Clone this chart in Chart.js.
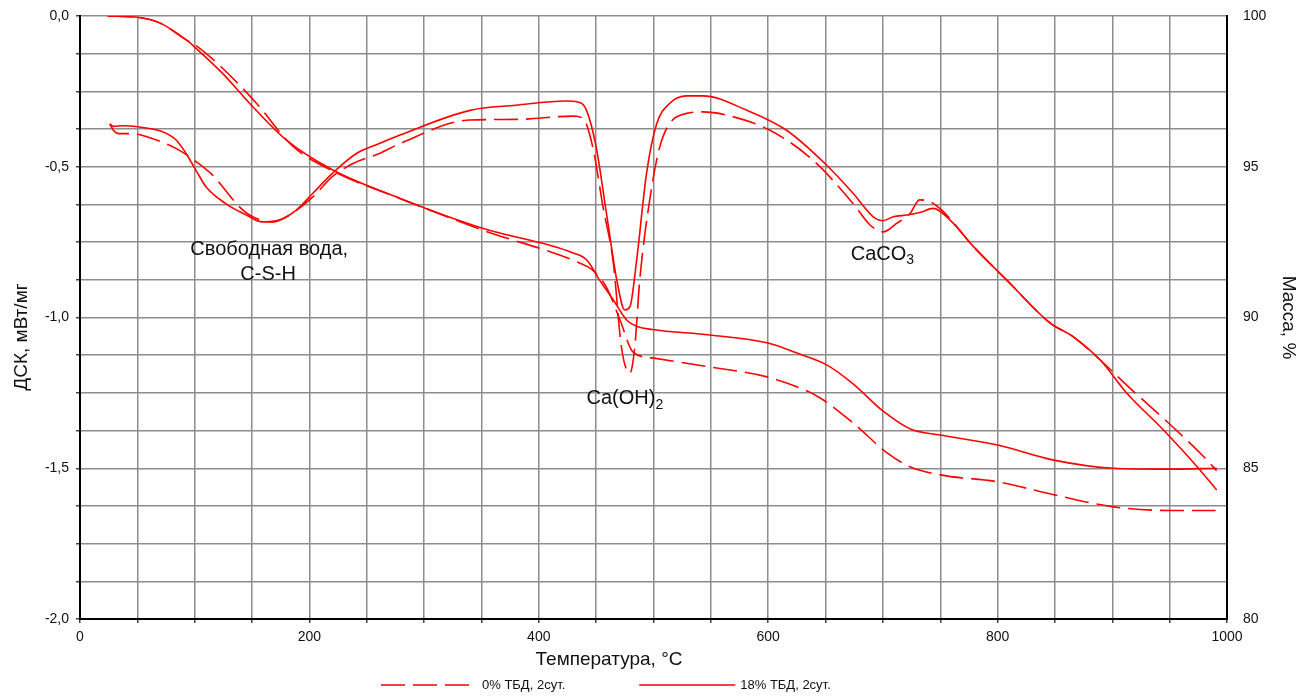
<!DOCTYPE html>
<html><head><meta charset="utf-8">
<script src="https://cdn.jsdelivr.net/npm/chart.js@4.4.1/dist/chart.umd.min.js"></script>
<style>html,body{margin:0;padding:0;background:#fff;}</style>
</head><body>
<canvas id="c" width="1308" height="699"></canvas>
<script>
// ---- data ----
const seriesLabels = ['0% ТБД, 2сут.', '18% ТБД, 2сут.'];
const xTitle = 'Температура, °С';
const yTitle = 'ДСК, мВт/мг';

// DSC, mW/mg (left axis)
const tempDsc0 = [26, 29, 34, 46, 57.6, 84, 95.4, 115.7, 139, 150.6, 168, 180, 203, 220, 238, 261, 279, 340, 380, 430, 438.6, 447, 456, 465, 472, 479.3, 483.7, 488, 498, 505.5, 514, 529, 543, 564, 601.5, 639, 674, 689, 700, 712, 723.6, 732, 741, 752.7, 779, 808, 846, 866, 889.5, 915.6, 947.6, 979.6, 991];
const dsc0 = [-0.358, -0.379, -0.39, -0.39, -0.40, -0.44, -0.467, -0.528, -0.633, -0.666, -0.683, -0.666, -0.6, -0.533, -0.489, -0.456, -0.423, -0.345, -0.343, -0.332, -0.34, -0.434, -0.633, -0.82, -1.097, -1.185, -1.097, -0.876, -0.578, -0.434, -0.357, -0.323, -0.318, -0.329, -0.379, -0.478, -0.622, -0.694, -0.716, -0.688, -0.655, -0.61, -0.616, -0.649, -0.765, -0.876, -1.019, -1.064, -1.141, -1.235, -1.345, -1.461, -1.508];

const tempDsc18 = [26, 29, 37, 52, 72, 84, 92.5, 101, 110, 127, 145, 159, 174, 188.5, 203, 220, 241, 261, 279, 340, 380, 424, 434, 441.5, 450, 459, 468, 475, 479.5, 485, 494, 502.6, 514, 529, 543, 581, 616, 651, 674, 691.6, 700, 709, 721, 732, 744, 758.6, 779, 808, 846, 866, 889.5, 912.7, 944.6, 973.8, 991];
const dsc18 = [-0.358, -0.366, -0.364, -0.368, -0.384, -0.412, -0.456, -0.511, -0.567, -0.622, -0.66, -0.683, -0.677, -0.644, -0.588, -0.522, -0.456, -0.423, -0.395, -0.313, -0.296, -0.282, -0.285, -0.312, -0.434, -0.655, -0.876, -0.975, -0.964, -0.82, -0.52, -0.36, -0.29, -0.265, -0.265, -0.312, -0.379, -0.495, -0.588, -0.666, -0.679, -0.666, -0.66, -0.652, -0.638, -0.677, -0.765, -0.876, -1.019, -1.064, -1.141, -1.251, -1.373, -1.494, -1.572];

// Mass, % (right axis)
const tempTg0 = [24, 50, 69, 93, 100, 124.5, 154, 185, 218, 279, 351, 436, 447, 459, 471, 482, 499, 549, 599, 625, 645, 674, 704, 724, 750, 800, 849, 901, 948, 990];
const mass0 = [100, 99.96, 99.78, 99.2, 99.05, 98.26, 97.1, 95.7, 94.9, 93.95, 92.9, 91.8, 91.57, 91.0, 89.9, 88.86, 88.66, 88.36, 88.03, 87.7, 87.34, 86.5, 85.5, 85.04, 84.78, 84.55, 84.12, 83.72, 83.6, 83.6];

const tempTg18 = [24, 50, 69, 93, 100, 124.5, 148, 180, 220, 279, 351, 430, 442, 453, 465, 477, 486, 499, 549, 599, 625, 651, 674, 700, 724, 750, 800, 849, 901, 948, 991];
const mass18 = [100, 99.96, 99.78, 99.2, 98.97, 98.09, 97.1, 95.88, 94.9, 93.95, 92.96, 92.14, 91.9, 91.24, 90.58, 89.9, 89.7, 89.6, 89.42, 89.16, 88.82, 88.43, 87.8, 86.9, 86.3, 86.1, 85.77, 85.27, 85.0, 84.97, 85.0];

// tick labels
const xTickValues = [0, 200, 400, 600, 800, 1000];
const dscTickValues = [0, -0.5, -1.0, -1.5, -2.0];
const massTickValues = [80, 85, 90, 95, 100];

// annotations (data coordinates on x / left axis)
const notes = [
  {parts: [['Свободная вода,', false]], x: 165, y: -0.774},
  {parts: [['C-S-H', false]], x: 164, y: -0.856},
  {parts: [['Ca(OH)', false], ['2', true]], x: 475, y: -1.27},
  {parts: [['CaCO', false], ['3', true]], x: 699.6, y: -0.79}
];

const pts = (xs, ys) => xs.map((x, i) => ({x, y: ys[i]}));
const FONT = "'Liberation Sans', Arial, sans-serif";
const RED = '#ff0000';
const DASH = [24, 8];

const notesPlugin = {
  id: 'notes',
  afterDatasetsDraw(chart) {
    const {ctx, scales} = chart;
    ctx.save();
    ctx.fillStyle = '#111';
    ctx.textBaseline = 'middle';
    ctx.textAlign = 'left';
    notes.forEach(n => {
      let w = 0;
      n.parts.forEach(([t, sub]) => { ctx.font = (sub ? '14px ' : '20px ') + FONT; w += ctx.measureText(t).width; });
      let x = scales.x.getPixelForValue(n.x) - w / 2;
      const y = scales.y.getPixelForValue(n.y);
      n.parts.forEach(([t, sub]) => {
        ctx.font = (sub ? '14px ' : '20px ') + FONT;
        ctx.fillText(t, x, sub ? y + 6 : y);
        x += ctx.measureText(t).width;
      });
    });
    ctx.restore();
  }
};

// x-axis title, left axis title and legend are placed off the plot centre in the reference
const outerTextPlugin = {
  id: 'outerTexts',
  afterDraw(chart) {
    const {ctx, chartArea} = chart;
    ctx.save();
    ctx.fillStyle = '#111';
    ctx.textBaseline = 'middle';
    ctx.textAlign = 'center';
    ctx.font = '19px ' + FONT;
    ctx.fillText(xTitle, chartArea.left + 529, chartArea.bottom + 41);

    ctx.save();
    ctx.translate(22, chartArea.top + 321);
    ctx.rotate(-Math.PI / 2);
    ctx.fillText(yTitle, 0, 0);
    ctx.restore();

    const y = chart.height - 14;
    let x = chartArea.left + 301;
    ctx.font = '13px ' + FONT;
    ctx.textAlign = 'left';
    [[DASH, seriesLabels[0]], [[], seriesLabels[1]]].forEach(([dash, label]) => {
      ctx.strokeStyle = RED;
      ctx.lineWidth = 1.6;
      ctx.setLineDash(dash);
      ctx.beginPath();
      ctx.moveTo(x, y); ctx.lineTo(x + 96, y); ctx.stroke();
      ctx.setLineDash([]);
      ctx.fillStyle = '#111';
      ctx.fillText(label, x + 101, y);
      x += 101 + ctx.measureText(label).width + 74;
    });
    ctx.restore();
  }
};

const lineBase = {borderColor: RED, backgroundColor: RED, borderWidth: 1.6, pointRadius: 0, fill: false, cubicInterpolationMode: 'monotone'};
const noVerticalOverflow = s => { s.paddingTop = 0; s.paddingBottom = 0; };

new Chart(document.getElementById('c'), {
  type: 'line',
  data: {
    datasets: [
      {...lineBase, label: seriesLabels[0], data: pts(tempDsc0, dsc0), borderDash: DASH, yAxisID: 'y'},
      {...lineBase, label: seriesLabels[1], data: pts(tempDsc18, dsc18), yAxisID: 'y'},
      {...lineBase, label: seriesLabels[0], data: pts(tempTg0, mass0), borderDash: DASH, yAxisID: 'y1'},
      {...lineBase, label: seriesLabels[1], data: pts(tempTg18, mass18), yAxisID: 'y1'}
    ]
  },
  options: {
    responsive: false,
    animation: false,
    layout: {padding: {top: 16, left: 0, right: 0, bottom: 24}},
    plugins: {legend: {display: false}, tooltip: {enabled: false}},
    scales: {
      x: {
        type: 'linear', min: 0, max: 1000,
        afterFit(s) { s.height = 56; },
        ticks: {stepSize: 50, autoSkip: false, maxRotation: 0, padding: 6, color: '#111', font: {family: FONT, size: 14},
          callback: v => xTickValues.includes(v) ? String(v) : ''},
        grid: {color: '#8c8c8c', lineWidth: 1.5, tickLength: 4, tickColor: '#444'},
        border: {color: '#000', width: 2},
        title: {display: false}
      },
      y: {
        position: 'left', min: -2, max: 0,
        afterFit(s) { s.width = 80; noVerticalOverflow(s); },
        ticks: {stepSize: 0.125, autoSkip: false, padding: 7, color: '#111', font: {family: FONT, size: 14},
          callback: v => dscTickValues.some(t => Math.abs(t - v) < 1e-6) ? v.toFixed(1).replace('.', ',') : ''},
        grid: {color: '#8c8c8c', lineWidth: 1.5, tickLength: 4, tickColor: '#444'},
        border: {color: '#000', width: 2},
        title: {display: false}
      },
      y1: {
        position: 'right', min: 80, max: 100,
        afterFit(s) { s.width = 81; noVerticalOverflow(s); },
        ticks: {stepSize: 1.25, autoSkip: false, padding: 16, color: '#111', font: {family: FONT, size: 14},
          callback: v => massTickValues.some(t => Math.abs(t - v) < 1e-6) ? String(Math.round(v)) : ''},
        grid: {drawOnChartArea: false, drawTicks: false},
        border: {color: '#000', width: 2},
        title: {display: true, text: 'Масса, %', color: '#111', font: {family: FONT, size: 19}, padding: {top: 8, bottom: 0}}
      }
    }
  },
  plugins: [notesPlugin, outerTextPlugin]
});
</script>
</body></html>
